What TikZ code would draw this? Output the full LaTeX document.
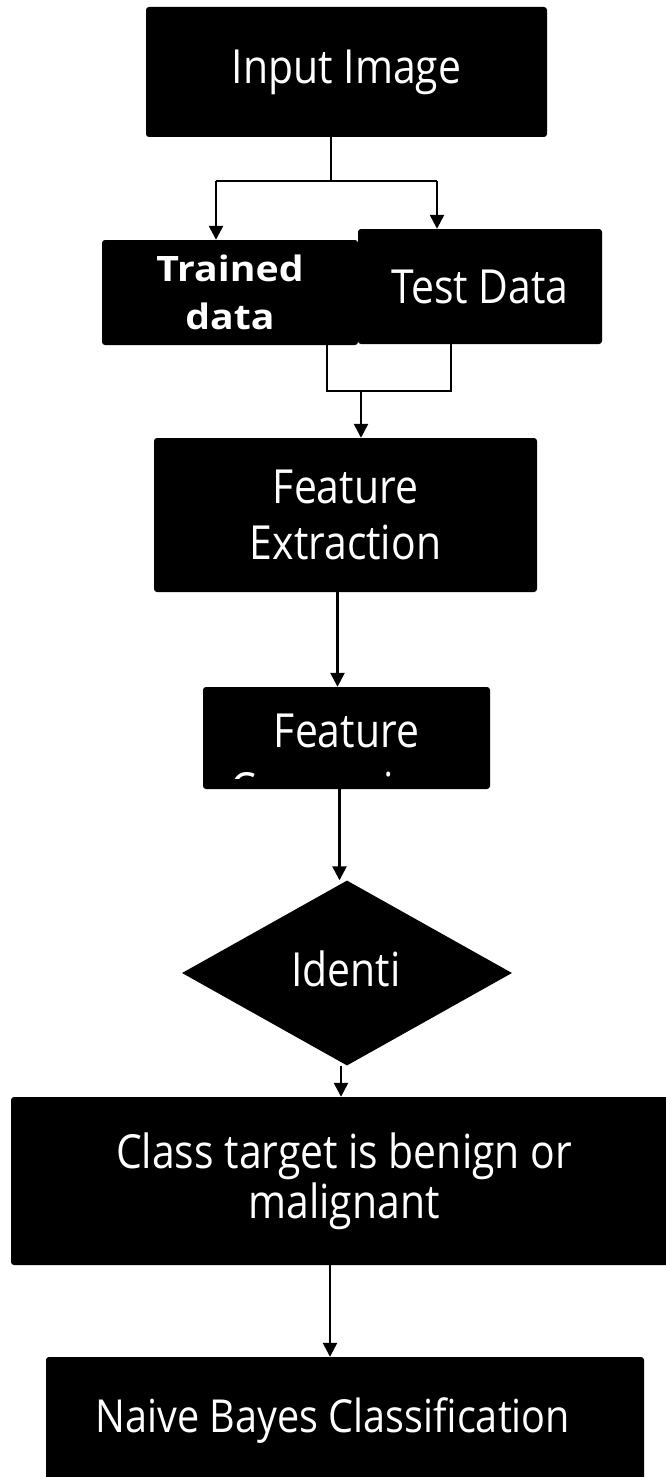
\documentclass[tikz,border=0pt]{standalone}
\usepackage{fontspec}
\setmainfont{Open Sans}[FakeStretch=0.87]
\newfontfamily\trnfont{Open Sans}[FakeStretch=1.12]
\usetikzlibrary{arrows.meta,shapes.geometric}
\tikzset{
  blk/.style={fill=black, rounded corners=3pt, inner sep=0pt, text=white, align=center,
              font=\fontsize{47}{56}\selectfont},
  txt/.style={inner sep=0pt, text=white, font=\fontsize{47}{56}\selectfont},
  lnk/.style={line width=2.5pt, draw=black},
  arr/.style={lnk, -{Triangle[length=14pt,width=14pt]}},
}
\begin{document}
\begin{tikzpicture}[x=1pt,y=-1pt]
\fill[white] (0,0) rectangle (666,1477);
\useasboundingbox (0,0) rectangle (666,1477);

% boxes
\node[blk, minimum width=401pt, minimum height=130pt] (inp) at (346.5,72) {Input Image};
\node[blk, minimum width=256pt, minimum height=105pt,
      font=\trnfont\bfseries\fontsize{35}{48}\selectfont] (trn) at (230,292.5) {Trained\\data};
\node[blk, minimum width=244pt, minimum height=115pt] (tst) at (480,286.5) {Test Data};
\node[blk, minimum width=383pt, minimum height=154pt] (fe) at (345.5,515) {Feature\\Extraction};
\node[blk, minimum width=287pt, minimum height=102pt] (fc) at (346.5,738) {};
\begin{scope}
  \clip (fc.north west) rectangle ([yshift=11pt]fc.south east);
  \node[txt, anchor=base] (fcA) at (346.5,747) {Feature};
  \node[txt, anchor=base] (fcB) at (346.5,806) {Comparison};
\end{scope}
\node[diamond, fill=black, aspect=1.78, inner sep=0pt, minimum width=330pt, minimum height=185pt]
      (dia) at (347,973) {};
\node[txt] (diat) at (346,969) {Identi};
\node[blk, minimum width=666pt, minimum height=168pt, font=\fontsize{47}{50}\selectfont]
      (cls) at (344,1181) {Class target is benign or\\malignant};
\node[blk, minimum width=598pt, minimum height=143pt] (nb) at (345,1428.5) {};
\node[txt, font=\fontsize{45.5}{56}\selectfont] (nbt) at (333,1421) {Naive Bayes Classification};

% connectors
\coordinate (j1) at (331,181);
\coordinate (jl) at (216,181);
\coordinate (jr) at (437,181);
\draw[lnk] (inp.south -| j1) -- (j1);
\draw[lnk] (jl) -- (jr);
\draw[arr] (jl) -- (jl |- trn.north);
\draw[arr] (jr) -- (jr |- tst.north);

\coordinate (ml) at (327,391);
\coordinate (mr) at (451,391);
\coordinate (m) at (361,391);
\draw[lnk] ([yshift=6pt]trn.south -| ml) -- (ml) -- (mr) -- ([yshift=1pt]tst.south -| mr);
\draw[arr] (m) -- (m |- fe.north);

\draw[arr] ([xshift=-8pt]fe.south) -- ([xshift=-8pt]fe.south |- fc.north);
\draw[arr] ([xshift=-7pt]fc.south) -- ([xshift=-7pt]fc.south |- dia.north);
\draw[arr] ([xshift=-6pt]dia.south) -- ([xshift=-6pt]dia.south |- cls.north);
\draw[arr] ([xshift=-14pt]cls.south) -- ([xshift=-14pt]cls.south |- nb.north);
\end{tikzpicture}
\end{document}
